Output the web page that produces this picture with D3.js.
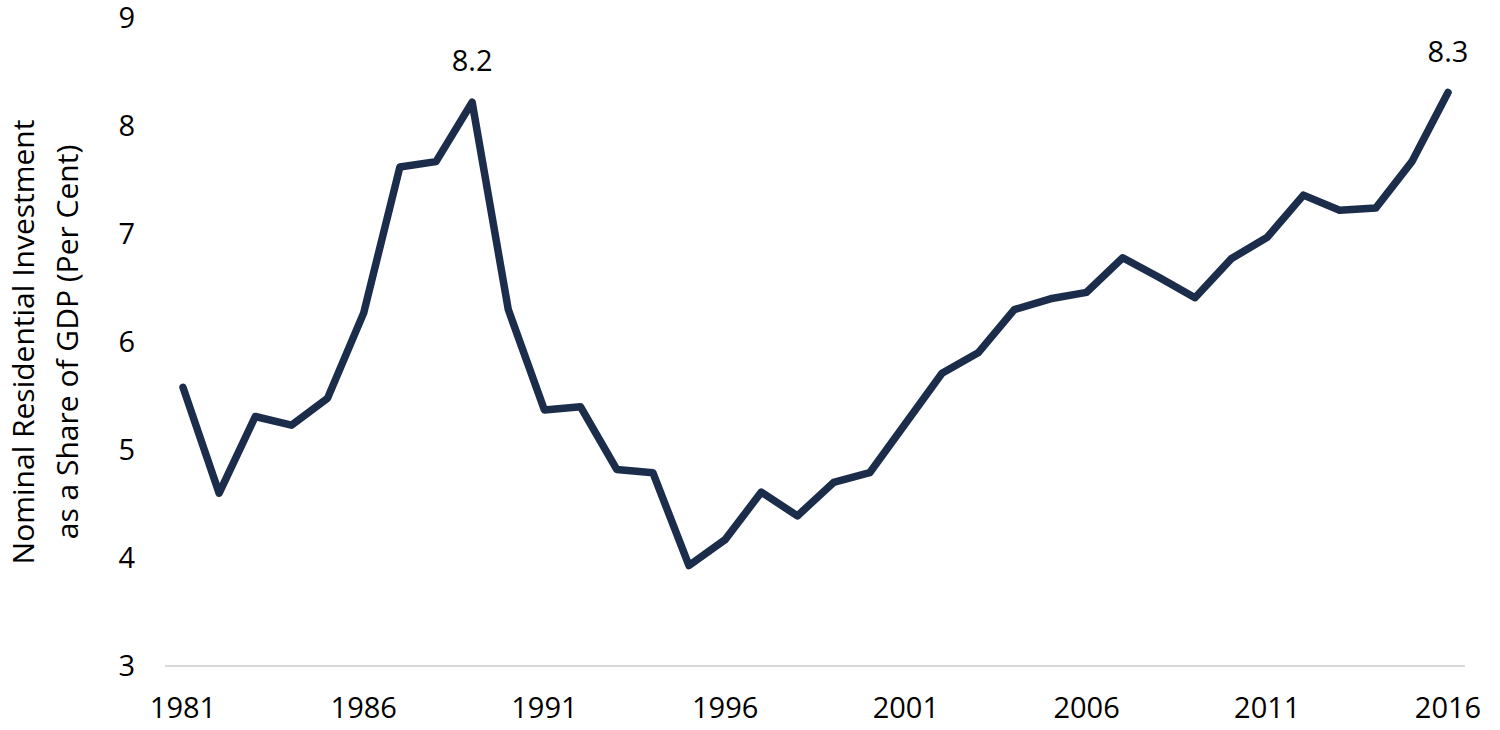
<!DOCTYPE html>
<html>
<head>
<meta charset="utf-8">
<script src="https://cdn.jsdelivr.net/npm/d3@7"></script>
<style>
  html, body { margin: 0; padding: 0; background: #fff; }
  svg { display: block; }
  text { font-family: "Open Sans", "Noto Sans", sans-serif; fill: #000; }
</style>
</head>
<body>
<svg id="chart" width="1500" height="730"></svg>
<script>
const years = [1981,1982,1983,1984,1985,1986,1987,1988,1989,1990,
               1991,1992,1993,1994,1995,1996,1997,1998,1999,2000,
               2001,2002,2003,2004,2005,2006,2007,2008,2009,2010,
               2011,2012,2013,2014,2015,2016];
const values = [5.58,4.60,5.31,5.23,5.48,6.27,7.62,7.67,8.22,6.30,
                5.37,5.40,4.82,4.79,3.93,4.17,4.61,4.39,4.70,4.79,
                5.25,5.71,5.90,6.30,6.40,6.46,6.78,6.60,6.41,6.77,
                6.97,7.36,7.22,7.24,7.67,8.31];
const xTickYears = [1981,1986,1991,1996,2001,2006,2011,2016];
const yTicks = [3,4,5,6,7,8,9];
const annotations = [{year:1989, label:"8.2"}, {year:2016, label:"8.3"}];
const yTitle = ["Nominal Residential Investment", "as a Share of GDP (Per Cent)"];

const svg = d3.select("#chart");
const x = d3.scaleLinear().domain([1981, 2016]).range([183, 1448]);
const y = d3.scaleLinear().domain([3, 9]).range([666, 18]);
const fs = 29;

// baseline
svg.append("line")
  .attr("x1", 165).attr("x2", 1465)
  .attr("y1", y(3)).attr("y2", y(3))
  .attr("stroke", "#d9d9d9").attr("stroke-width", 2);

// y tick labels
svg.selectAll(".ytick").data(yTicks).enter().append("text")
  .attr("class", "ytick")
  .attr("x", 135).attr("y", d => y(d))
  .attr("dy", "0.36em")
  .attr("text-anchor", "end")
  .attr("font-size", fs)
  .text(d => d);

// x tick labels
svg.selectAll(".xtick").data(xTickYears).enter().append("text")
  .attr("class", "xtick")
  .attr("x", d => x(d)).attr("y", 718)
  .attr("text-anchor", "middle")
  .attr("font-size", fs)
  .text(d => d);

// y title
const tg = svg.append("g").attr("transform", "translate(0,342) rotate(-90)");
tg.selectAll("text").data(yTitle).enter().append("text")
  .attr("x", 0).attr("y", (d, i) => 34 + i * 44)
  .attr("text-anchor", "middle")
  .attr("font-size", 30)
  .text(d => d);

// line
const data = years.map((yr, i) => ({year: yr, value: values[i]}));
svg.append("path")
  .datum(data)
  .attr("fill", "none")
  .attr("stroke", "#1b2d4b")
  .attr("stroke-width", 7.5)
  .attr("stroke-linejoin", "round")
  .attr("stroke-linecap", "round")
  .attr("d", d3.line().x(d => x(d.year)).y(d => y(d.value)));

// annotations
svg.selectAll(".ann").data(annotations).enter().append("text")
  .attr("class", "ann")
  .attr("x", d => x(d.year))
  .attr("y", d => y(values[years.indexOf(d.year)]) - 31)
  .attr("text-anchor", "middle")
  .attr("font-size", fs)
  .text(d => d.label);
</script>
</body>
</html>
